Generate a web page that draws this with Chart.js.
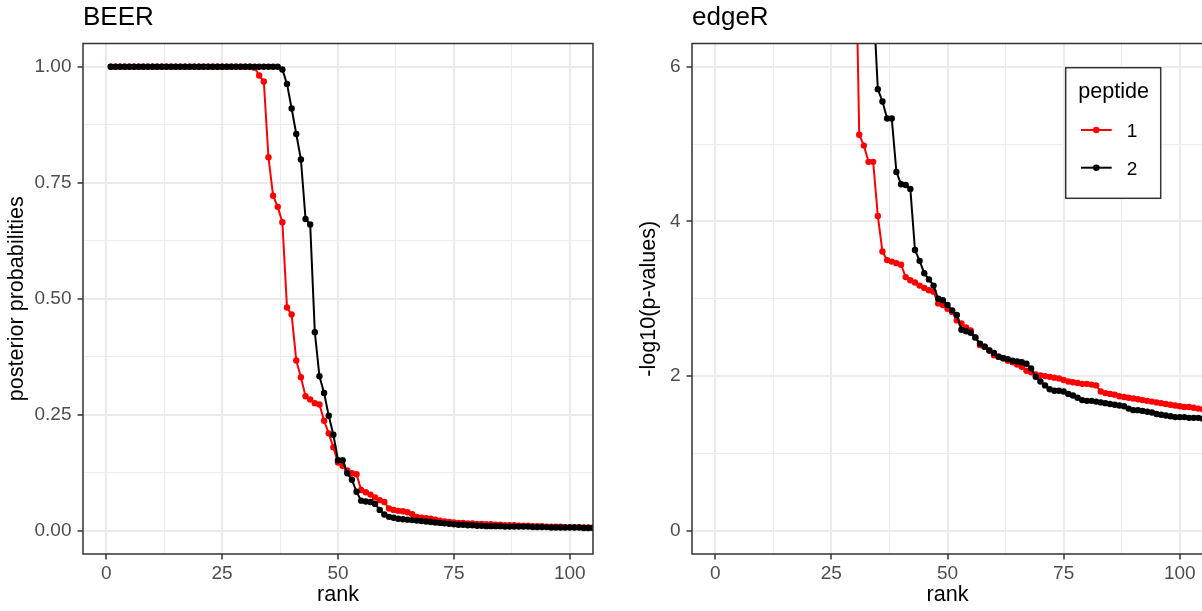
<!DOCTYPE html>
<html>
<head>
<meta charset="utf-8">
<script src="https://cdn.jsdelivr.net/npm/chart.js@4"></script>
<style>
  html, body { margin: 0; padding: 0; background: #fff; overflow: hidden; width: 1202px; height: 611px; }
  canvas { position: absolute; top: 0; }
  #beer { left: 0; }
  #edger { left: 600px; }
</style>
</head>
<body>
<canvas id="beer" width="600" height="611"></canvas>
<canvas id="edger" width="620" height="611"></canvas>
<script>
// values, one per rank (1..108)
const beerPep1 = [
  1, 1, 1, 1, 1, 1, 1, 1, 1, 1,
  1, 1, 1, 1, 1, 1, 1, 1, 1, 1,
  1, 1, 1, 1, 1, 1, 1, 1, 1, 1,
  1, 0.998, 0.981, 0.968, 0.805, 0.722, 0.698, 0.665, 0.481, 0.466,
  0.367, 0.331, 0.29, 0.283, 0.275, 0.272, 0.237, 0.21, 0.18, 0.147,
  0.14, 0.13, 0.124, 0.122, 0.088, 0.083, 0.078, 0.072, 0.066, 0.062,
  0.048, 0.045, 0.043, 0.042, 0.04, 0.036, 0.03, 0.028, 0.027, 0.026,
  0.024, 0.022, 0.02, 0.019, 0.018, 0.017, 0.017, 0.016, 0.016, 0.015,
  0.015, 0.014, 0.014, 0.013, 0.013, 0.012, 0.012, 0.012, 0.011, 0.011,
  0.011, 0.010, 0.010, 0.010, 0.009, 0.009, 0.009, 0.009, 0.008, 0.008,
  0.008, 0.008, 0.007, 0.007, 0.007, 0.007, 0.006, 0.006
];
const beerPep2 = [
  1, 1, 1, 1, 1, 1, 1, 1, 1, 1,
  1, 1, 1, 1, 1, 1, 1, 1, 1, 1,
  1, 1, 1, 1, 1, 1, 1, 1, 1, 1,
  1, 1, 1, 1, 1, 1, 1, 0.994, 0.963, 0.91,
  0.855, 0.80, 0.672, 0.66, 0.428, 0.333, 0.297, 0.248, 0.207, 0.152,
  0.152, 0.124, 0.11, 0.084, 0.065, 0.063, 0.062, 0.058, 0.045, 0.035,
  0.03, 0.028, 0.026, 0.025, 0.024, 0.023, 0.022, 0.021, 0.02, 0.019,
  0.018, 0.017, 0.016, 0.015, 0.014, 0.013, 0.013, 0.012, 0.012, 0.011,
  0.011, 0.010, 0.010, 0.010, 0.010, 0.009, 0.009, 0.009, 0.009, 0.009,
  0.009, 0.008, 0.008, 0.008, 0.008, 0.007, 0.007, 0.007, 0.007, 0.007,
  0.007, 0.007, 0.006, 0.006, 0.006, 0.006, 0.006, 0.005
];
const edgerPep1 = [
  15.8, 14.1, 13.3, 12.9, 12.2, 11.8, 11.5, 11.1, 10.9, 10.6,
  10.4, 10.2, 10.0, 9.9, 9.7, 9.6, 9.5, 9.4, 9.3, 9.2,
  9.1, 9.0, 8.95, 8.9, 8.8, 8.75, 8.7, 8.6, 8.5, 8.4,
  5.12, 4.98, 4.77, 4.77, 4.07, 3.61, 3.50, 3.48, 3.46, 3.44,
  3.28, 3.24, 3.21, 3.17, 3.14, 3.11, 3.09, 2.94, 2.92, 2.87,
  2.83, 2.72, 2.68, 2.63, 2.59, 2.50, 2.40, 2.38, 2.33, 2.27,
  2.25, 2.23, 2.20, 2.18, 2.15, 2.12, 2.07, 2.05, 2.02, 2.01,
  2.00, 1.99, 1.98, 1.97, 1.95, 1.93, 1.92, 1.91, 1.90, 1.90,
  1.89, 1.88, 1.80, 1.78, 1.77, 1.76, 1.74, 1.73, 1.72, 1.71,
  1.70, 1.69, 1.68, 1.67, 1.66, 1.65, 1.64, 1.63, 1.62, 1.61,
  1.60, 1.60, 1.59, 1.58, 1.57, 1.56, 1.55, 1.54
];
const edgerPep2 = [
  18.5, 16.9, 15.2, 14.6, 13.8, 13.1, 12.7, 12.3, 11.9, 11.6,
  11.3, 11.0, 10.8, 10.6, 10.4, 10.2, 10.0, 9.8, 9.6, 9.4,
  9.2, 9.0, 8.8, 8.6, 8.4, 8.2, 8.0, 7.8, 7.6, 7.5,
  7.4, 7.2, 7.05, 6.9, 5.71, 5.55, 5.33, 5.33, 4.64, 4.48,
  4.47, 4.42, 3.63, 3.49, 3.33, 3.25, 3.17, 3.00, 2.98, 2.92,
  2.85, 2.79, 2.60, 2.58, 2.56, 2.50, 2.42, 2.38, 2.33, 2.30,
  2.25, 2.23, 2.22, 2.20, 2.19, 2.18, 2.16, 2.10, 1.99, 1.93,
  1.88, 1.83, 1.81, 1.81, 1.80, 1.77, 1.75, 1.72, 1.69, 1.68,
  1.68, 1.67, 1.66, 1.65, 1.64, 1.63, 1.62, 1.61, 1.58, 1.56,
  1.56, 1.55, 1.54, 1.53, 1.51, 1.50, 1.49, 1.48, 1.47, 1.47,
  1.47, 1.46, 1.46, 1.46, 1.45, 1.45, 1.44, 1.44
];

const peptides = ["1", "2"];
const peptideColors = ["#ff0000", "#000000"];

// grid positions (major every 25 / 0.25 / 2, minor in between)
const rankGrid = [0, 12.5, 25, 37.5, 50, 62.5, 75, 87.5, 100];
const rankMajor = [0, 25, 50, 75, 100];
const probGrid = [0, 0.125, 0.25, 0.375, 0.5, 0.625, 0.75, 0.875, 1];
const probMajor = [0, 0.25, 0.5, 0.75, 1];
const logpGrid = [0, 1, 2, 3, 4, 5, 6];
const logpMajor = [0, 2, 4, 6];

Chart.defaults.font.family = "'Liberation Sans', Arial, Helvetica, sans-serif";
Chart.defaults.animation = false;

function toPoints(values) {
  return values.map((v, i) => ({ x: i + 1, y: v }));
}

function isMajor(list, v) {
  return list.some((m) => Math.abs(m - v) < 1e-9);
}

const panelFrame = {
  id: "panelFrame",
  afterDraw(chart) {
    const { ctx, chartArea } = chart;
    ctx.save();
    ctx.strokeStyle = "#333333";
    ctx.lineWidth = 1.5;
    ctx.strokeRect(chartArea.left, chartArea.top, chartArea.right - chartArea.left, chartArea.bottom - chartArea.top);
    ctx.restore();
  },
};

// ggplot-like legend box drawn inside the panel
const boxLegend = {
  id: "boxLegend",
  afterDraw(chart, args, opts) {
    if (!opts.show) return;
    const ctx = chart.ctx;
    ctx.save();
    ctx.fillStyle = "#ffffff";
    ctx.fillRect(opts.x, opts.y, opts.w, opts.h);
    ctx.strokeStyle = "#333333";
    ctx.lineWidth = 1.5;
    ctx.strokeRect(opts.x, opts.y, opts.w, opts.h);

    ctx.fillStyle = "#000000";
    ctx.textBaseline = "alphabetic";
    ctx.textAlign = "left";
    ctx.font = "21.6px " + Chart.defaults.font.family;
    ctx.fillText(opts.title, opts.x + 12.5, opts.y + 30.6);

    const items = chart.data.datasets.slice().sort((a, b) => a.label.localeCompare(b.label));
    items.forEach((ds, i) => {
      const cy = opts.y + 62.3 + i * 37.7;
      const x0 = opts.x + 15.3;
      ctx.strokeStyle = ds.borderColor;
      ctx.lineWidth = 2;
      ctx.beginPath();
      ctx.moveTo(x0, cy);
      ctx.lineTo(x0 + 30.7, cy);
      ctx.stroke();
      ctx.fillStyle = ds.borderColor;
      ctx.beginPath();
      ctx.arc(x0 + 15.3, cy, 3.3, 0, Math.PI * 2);
      ctx.fill();
      ctx.fillStyle = "#000000";
      ctx.font = "19px " + Chart.defaults.font.family;
      ctx.fillText(ds.label, x0 + 45.7, cy + 7);
    });
    ctx.restore();
  },
};

function makeDatasets(series) {
  return series.map((values, i) => ({
    label: peptides[i],
    data: toPoints(values),
    borderColor: peptideColors[i],
    backgroundColor: peptideColors[i],
    pointBackgroundColor: peptideColors[i],
    pointBorderWidth: 0,
    pointRadius: 3.2,
    borderWidth: 2,
    tension: 0,
    clip: 0,
    order: series.length - i,
  }));
}

function makePanel(canvasId, cfg) {
  const tickFont = { size: 19 };
  const titleFont = { size: 21.6 };
  return new Chart(document.getElementById(canvasId), {
    type: "line",
    data: { datasets: makeDatasets(cfg.series) },
    options: {
      responsive: false,
      devicePixelRatio: 1,
      layout: { padding: { left: 0, right: cfg.rightPad, top: 0, bottom: 0 } },
      plugins: {
        legend: { display: false },
        tooltip: { enabled: false },
        title: {
          display: true,
          text: cfg.title,
          align: "start",
          fullSize: false,
          color: "#000000",
          font: { size: 26, weight: "normal" },
          padding: { top: 2.1, bottom: 10.2 },
        },
        boxLegend: cfg.legend,
      },
      scales: {
        x: {
          type: "linear",
          min: -5,
          max: 105,
          afterBuildTicks: (axis) => { axis.ticks = rankGrid.map((v) => ({ value: v })); },
          afterFit: (axis) => { axis.height = 57; },
          border: { display: false },
          grid: {
            color: "#ebebeb",
            lineWidth: (c) => (c.tick && isMajor(rankMajor, c.tick.value) ? 2 : 1),
            tickColor: (c) => (c.tick && isMajor(rankMajor, c.tick.value) ? "#333333" : "rgba(0,0,0,0)"),
            tickWidth: 1.5,
            tickLength: 5.5,
          },
          ticks: {
            font: tickFont,
            color: "#4d4d4d",
            padding: 3,
            maxRotation: 0,
            autoSkip: false,
            callback: (v) => (isMajor(rankMajor, v) ? String(v) : ""),
          },
          title: { display: true, text: "rank", color: "#000000", font: titleFont, padding: { top: 0, bottom: 2.5 } },
        },
        y: {
          type: "linear",
          min: cfg.yMin,
          max: cfg.yMax,
          afterBuildTicks: (axis) => { axis.ticks = cfg.yGrid.map((v) => ({ value: v })); },
          afterFit: (axis) => { axis.width = cfg.yAxisWidth; },
          border: { display: false },
          grid: {
            color: "#ebebeb",
            lineWidth: (c) => (c.tick && isMajor(cfg.yMajor, c.tick.value) ? 2 : 1),
            tickColor: (c) => (c.tick && isMajor(cfg.yMajor, c.tick.value) ? "#333333" : "rgba(0,0,0,0)"),
            tickWidth: 1.5,
            tickLength: 5.5,
          },
          ticks: {
            font: tickFont,
            color: "#4d4d4d",
            padding: 6,
            autoSkip: false,
            callback: (v) => (isMajor(cfg.yMajor, v) ? cfg.fmt(v) : ""),
          },
          title: { display: true, text: cfg.yTitle, color: "#000000", font: titleFont, padding: { top: cfg.yTitlePad, bottom: 0 } },
        },
      },
    },
    plugins: [panelFrame, boxLegend],
  });
}

makePanel("beer", {
  title: "BEER",
  series: [beerPep1, beerPep2],
  yMin: -0.05,
  yMax: 1.05,
  yGrid: probGrid,
  yMajor: probMajor,
  fmt: (v) => v.toFixed(2),
  yTitle: "posterior probabilities",
  yTitlePad: 4,
  yAxisWidth: 83,
  rightPad: 7,
  legend: { show: false },
});

makePanel("edger", {
  title: "edgeR",
  series: [edgerPep1, edgerPep2],
  yMin: -0.3,
  yMax: 6.3,
  yGrid: logpGrid,
  yMajor: logpMajor,
  fmt: (v) => String(v),
  yTitle: "-log10(p-values)",
  yTitlePad: 36,
  yAxisWidth: 92,
  rightPad: 17,
  legend: { show: true, title: "peptide", x: 465.7, y: 67.7, w: 95, h: 130.6 },
});
</script>
</body>
</html>
